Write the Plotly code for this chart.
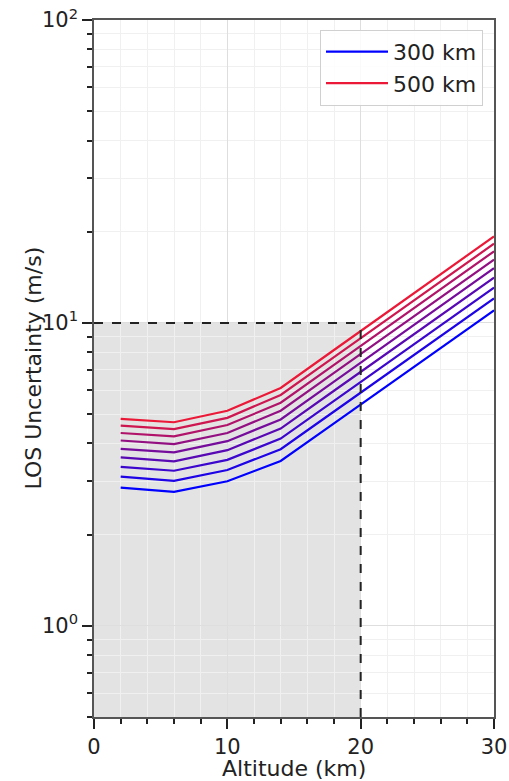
import plotly.graph_objects as go

# ---- data ----
altitude_km = [2, 6, 10, 14, 18, 22, 26, 30]
orbit_labels = ["300 km", "325 km", "350 km", "375 km", "400 km", "425 km", "450 km", "475 km", "500 km"]
los_300 = [2.86, 2.77, 3.00, 3.50, 4.66, 6.20, 8.25, 11.00]
los_325 = [3.11, 3.01, 3.27, 3.83, 5.10, 6.78, 9.03, 12.04]
los_350 = [3.35, 3.25, 3.53, 4.15, 5.53, 7.37, 9.81, 13.08]
los_375 = [3.60, 3.49, 3.80, 4.48, 5.97, 7.95, 10.59, 14.11]
los_400 = [3.84, 3.74, 4.07, 4.80, 6.40, 8.53, 11.37, 15.15]
los_425 = [4.09, 3.98, 4.33, 5.13, 6.84, 9.11, 12.15, 16.19]
los_450 = [4.33, 4.22, 4.60, 5.45, 7.27, 9.70, 12.93, 17.23]
los_475 = [4.58, 4.46, 4.86, 5.78, 7.71, 10.28, 13.71, 18.26]
los_500 = [4.82, 4.70, 5.13, 6.10, 8.14, 10.86, 14.49, 19.30]
series = [los_300, los_325, los_350, los_375, los_400, los_425, los_450, los_475, los_500]

x_ticks = [0, 10, 20, 30]
y_ticks = [1, 10, 100]
y_ticktext = ["10<sup>0</sup>", "10<sup>1</sup>", "10<sup>2</sup>"]
limit_altitude = 20
limit_uncertainty = 10
x_title = "Altitude (km)"
y_title = "LOS Uncertainty (m/s)"

FONT = "DejaVu Sans"
TXT = "#222"
fig = go.Figure()

n = len(series)
for i, (vals, lab) in enumerate(zip(series, orbit_labels)):
    t = i / (n - 1)
    r = int(round(235 * t))
    g = int(round(25 * t))
    b = int(round(255 * (1 - t) + 55 * t))
    color = f"rgb({r},{g},{b})"
    fig.add_trace(go.Scatter(
        x=altitude_km, y=vals, mode="lines", name=lab,
        line=dict(color=color, width=2.2),
        showlegend=(i == 0 or i == n - 1),
    ))

# shaded requirement region
fig.add_shape(type="rect", xref="x", yref="y", x0=0, x1=limit_altitude,
              y0=0.5, y1=limit_uncertainty, fillcolor="rgba(128,128,128,0.22)",
              line=dict(width=0), layer="below")
fig.add_shape(type="line", xref="x", yref="y", x0=0, x1=limit_altitude,
              y0=limit_uncertainty, y1=limit_uncertainty,
              line=dict(color="#222", width=2, dash="dash"))
fig.add_shape(type="line", xref="x", yref="y", x0=limit_altitude, x1=limit_altitude,
              y0=0.5, y1=limit_uncertainty,
              line=dict(color="#222", width=2, dash="dash"))

minor_y = [v * m for m in (0.1, 1, 10) for v in range(2, 10)]
minor_y = [v for v in minor_y if 0.5 <= v <= 100]

fig.update_xaxes(
    range=[0, 30], tickvals=x_ticks, ticks="outside", ticklen=10, tickwidth=1.5,
    tickcolor=TXT, showline=True, linecolor="#555", linewidth=1.5, mirror=True,
    showgrid=True, gridcolor="#dedede", gridwidth=1, zeroline=False, automargin=False,
    tickfont=dict(family=FONT, size=21, color=TXT),
    minor=dict(tickvals=[v for v in range(0, 31, 2) if v % 10], ticks="outside",
               ticklen=5, tickcolor=TXT, showgrid=True, gridcolor="#f0f0f0", gridwidth=1),
)
fig.update_yaxes(
    type="log", range=[-0.30103, 2], tickvals=y_ticks, ticktext=y_ticktext,
    ticks="outside", ticklen=10, tickwidth=1.5, tickcolor=TXT,
    showline=True, linecolor="#555", linewidth=1.5, mirror=True,
    showgrid=True, gridcolor="#dedede", gridwidth=1, zeroline=False, automargin=False,
    tickfont=dict(family=FONT, size=21, color=TXT),
    minor=dict(tickvals=minor_y, ticks="outside", ticklen=5, tickcolor=TXT,
               showgrid=True, gridcolor="#f0f0f0", gridwidth=1),
)

fig.add_annotation(text=x_title, xref="paper", yref="paper", x=0.5, y=0,
                   xanchor="center", yanchor="middle", yshift=-51, showarrow=False,
                   font=dict(family=FONT, size=22, color=TXT))
fig.add_annotation(text=y_title, xref="paper", yref="paper", x=0, y=0.5,
                   xanchor="center", yanchor="middle", xshift=-61, textangle=-90,
                   showarrow=False, font=dict(family=FONT, size=22, color=TXT))

fig.update_layout(
    width=509, height=781,
    margin=dict(l=94, r=15, t=20, b=64),
    paper_bgcolor="white", plot_bgcolor="white",
    font=dict(family=FONT, color=TXT),
    legend=dict(x=0.9725, y=0.986, xanchor="right", yanchor="top",
                bgcolor="rgba(255,255,255,0.85)", bordercolor="#d0d0d0", borderwidth=1,
                font=dict(family=FONT, size=22, color=TXT), itemwidth=62),
)

fig.write_html("out.html")
